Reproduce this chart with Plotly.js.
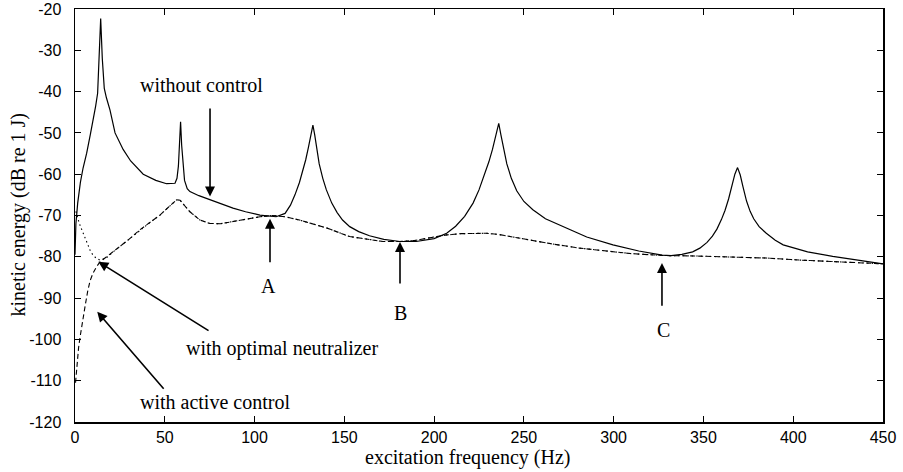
<!DOCTYPE html>
<html>
<head>
<meta charset="utf-8">
<script src="https://cdn.plot.ly/plotly-3.0.1.min.js"></script>
<style>
  html, body { margin: 0; padding: 0; background: #fff; }
  #chart { width: 903px; height: 472px; }
</style>
</head>
<body>
<div id="chart"></div>
<script>
// Without control (solid)
const freqWithout = [0, 0.5, 1.5, 3, 4.5, 6.5, 8.5, 10.2, 11.5, 12.6, 13.3, 14.3, 15.2, 16.3, 17.5, 19.5, 22.3, 26.8, 31, 38, 45, 51, 55.7, 56.8, 57.6, 58.2, 58.8, 59.4, 60.1, 61, 62.5, 64, 69, 75, 82, 88, 95, 103, 112, 117, 120, 122.5, 125, 127, 128.5, 130, 131.3, 132.5, 133.5, 134.5, 136, 138, 140, 143, 146, 149, 153, 158, 164, 172, 181, 190, 200, 207, 212, 217, 221.7, 225, 228, 230.5, 232.5, 234.5, 236, 237.2, 238.5, 240.5, 243, 246, 250, 255, 262, 271.8, 285, 299.6, 314, 327, 332, 338, 344, 348, 352, 355, 357.5, 360, 362, 364, 366, 367.5, 369, 370.5, 372, 374, 376, 378, 381, 385, 390, 394.4, 408, 422, 436, 450];
const energyWithout = [-79.5, -72, -67, -62, -58.5, -54.9, -50.5, -46.9, -43.5, -40.4, -34, -22.3, -32, -39.2, -41.5, -44.5, -50, -54, -56.8, -60, -61.5, -62.3, -62.2, -61, -58, -53, -47.3, -53, -58, -61.5, -63.5, -64.2, -65.2, -66.2, -67.2, -68.2, -69.1, -69.9, -70.3, -69.5, -67.5, -65, -62, -59, -56.5, -53.5, -50.5, -48.1, -50.5, -53.5, -57.5, -61, -63.8, -67, -69.3, -71.1, -72.7, -73.9, -74.9, -75.8, -76.3, -76.3, -75.6, -74.3, -72.6, -70.2, -67, -63.8, -60.3, -57, -54, -50.5, -47.7, -50.5, -53.5, -57.5, -61, -64, -66.6, -68.6, -70.8, -72.7, -75.2, -77.1, -78.6, -79.6, -79.7, -79.4, -78.8, -77.9, -76.5, -75, -73.3, -71, -68.8, -66, -62.5, -60, -58.4, -60.2, -63, -66.5, -69, -70.8, -72.7, -74.3, -76, -77.1, -78.8, -79.9, -80.8, -81.7];

// With active control (dashed)
const freqActive = [0.3, 1, 2, 2.8, 4, 5.6, 7, 8.4, 10, 12, 14, 17.6, 21, 25, 30, 36, 42, 47.3, 52, 55, 56.6, 58.5, 61, 64, 69.6, 75, 81, 88, 95, 103, 110, 117, 125, 132, 140, 153, 164, 171.5, 181, 190, 200, 207, 215, 222, 229, 236, 245, 253, 266, 281, 295, 309, 320, 329, 345, 366, 385, 403.7, 425, 450];
const energyActive = [-110.5, -106, -102, -99.5, -96, -92, -88.5, -85.8, -84, -82.4, -81.2, -80, -78.9, -77.5, -75.8, -73.5, -71.6, -69.9, -68, -66.7, -66.2, -66.3, -67.5, -69.1, -71.1, -71.9, -72, -71.5, -70.9, -70.3, -70, -70.3, -71.1, -72, -73, -75.1, -75.9, -76.3, -76.3, -76, -75.2, -74.7, -74.4, -74.3, -74.3, -74.6, -75.3, -75.9, -76.9, -77.9, -78.6, -79.2, -79.5, -79.7, -79.8, -80, -80.3, -80.8, -81.2, -81.7];

// With optimal neutralizer (dotted)
const freqNeutral = [0.5, 1, 2, 3, 4.6, 6.5, 8.4, 10, 12, 14, 17.6, 21, 25, 30, 36, 42, 47.3, 52, 55, 56.6, 58.5, 61, 64, 69.6, 75, 81, 88, 95, 103, 110, 117, 125, 132, 140, 153, 164, 171.5, 181, 190, 200, 207, 215, 222, 229, 236, 245, 253, 266, 281, 295, 309, 320, 329, 345, 366, 385, 403.7, 425, 450];
const energyNeutral = [-69, -69.9, -71.3, -72.6, -74.3, -76.5, -78.4, -79.6, -80.4, -80.8, -80.2, -78.9, -77.5, -75.8, -73.5, -71.6, -69.9, -68, -66.7, -66.2, -66.3, -67.5, -69.1, -71.1, -71.9, -72, -71.5, -70.9, -70.3, -70, -70.3, -71.1, -72, -73, -75.1, -75.9, -76.3, -76.3, -76, -75.2, -74.7, -74.4, -74.3, -74.3, -74.6, -75.3, -75.9, -76.9, -77.9, -78.6, -79.2, -79.5, -79.7, -79.8, -80, -80.3, -80.8, -81.2, -81.7];

const xTicks = [0, 50, 100, 150, 200, 250, 300, 350, 400, 450];
const yTicks = [-120, -110, -100, -90, -80, -70, -60, -50, -40, -30, -20];

const xTitle = 'excitation frequency (Hz)';
const yTitle = 'kinetic energy (dB re 1 J)';

// annotation labels and arrows (tip / tail in data units)
const labelTexts = ['without control', 'A', 'B', 'C', 'with optimal neutralizer', 'with active control'];
const labelX = [70.2, 107.5, 181, 327.5, 115.3, 78];
const labelY = [-38.4, -87.1, -93.6, -97.7, -102.1, -115.1];
const arrowTipX = [75.2, 108.6, 181, 326.9, 13, 12.4];
const arrowTipY = [-65.4, -70.8, -76.4, -81.5, -81.2, -93.3];
const arrowTailX = [75.2, 108.6, 181, 326.9, 75.2, 50.1];
const arrowTailY = [-43.7, -81.7, -86.8, -92.2, -98.1, -112.3];

const serif = 'Liberation Serif, Times New Roman, serif';
const sans = 'Liberation Sans, Arial, sans-serif';

const traces = [
  { x: freqWithout, y: energyWithout, mode: 'lines', name: 'without control',
    line: { color: '#000', width: 1.2 } },
  { x: freqActive, y: energyActive, mode: 'lines', name: 'with active control',
    line: { color: '#000', width: 1.1, dash: '5px,3px' } },
  { x: freqNeutral, y: energyNeutral, mode: 'lines', name: 'with optimal neutralizer',
    line: { color: '#000', width: 1.1, dash: '1.5px,3px' } }
];

const annotations = [];
labelTexts.forEach((t, i) => {
  annotations.push({ x: labelX[i], y: labelY[i], xref: 'x', yref: 'y', text: t,
    showarrow: false, xanchor: 'center', yanchor: 'middle',
    font: { family: serif, size: 20, color: '#000' } });
  annotations.push({ x: arrowTipX[i], y: arrowTipY[i], ax: arrowTailX[i], ay: arrowTailY[i],
    xref: 'x', yref: 'y', axref: 'x', ayref: 'y', text: '', showarrow: true,
    arrowhead: 2, arrowsize: 1.25, arrowwidth: 1.6, arrowcolor: '#000' });
});
annotations.push({ x: (467 - 75) / 808, y: -0.085, xref: 'paper', yref: 'paper', text: xTitle,
  showarrow: false, xanchor: 'center', yanchor: 'middle',
  font: { family: serif, size: 20, color: '#000' } });
annotations.push({ x: (18 - 75) / 808, y: 0.5, xref: 'paper', yref: 'paper', text: yTitle,
  textangle: -90, showarrow: false, xanchor: 'center', yanchor: 'middle',
  font: { family: serif, size: 20, color: '#000' } });

const layout = {
  width: 903, height: 472,
  margin: { l: 75, r: 20, t: 9, b: 50 },
  paper_bgcolor: '#fff', plot_bgcolor: '#fff',
  showlegend: false,
  xaxis: {
    range: [0, 450], tickvals: xTicks, ticktext: xTicks.map(String),
    ticks: 'inside', ticklen: 6, tickwidth: 1, tickcolor: '#000',
    showline: true, linecolor: '#000', linewidth: 1.5, mirror: 'ticks',
    showgrid: false, zeroline: false, ticklabelstandoff: 0,
    tickfont: { family: sans, size: 16, color: '#000' }
  },
  yaxis: {
    range: [-120, -20], tickvals: yTicks, ticktext: yTicks.map(String),
    ticks: 'inside', ticklen: 6, tickwidth: 1, tickcolor: '#000',
    showline: true, linecolor: '#000', linewidth: 1.5, mirror: 'ticks',
    showgrid: false, zeroline: false, ticklabelstandoff: 9,
    tickfont: { family: sans, size: 16, color: '#000' }
  },
  annotations: annotations
};

Plotly.newPlot('chart', traces, layout, { staticPlot: true, displayModeBar: false });
</script>
</body>
</html>
